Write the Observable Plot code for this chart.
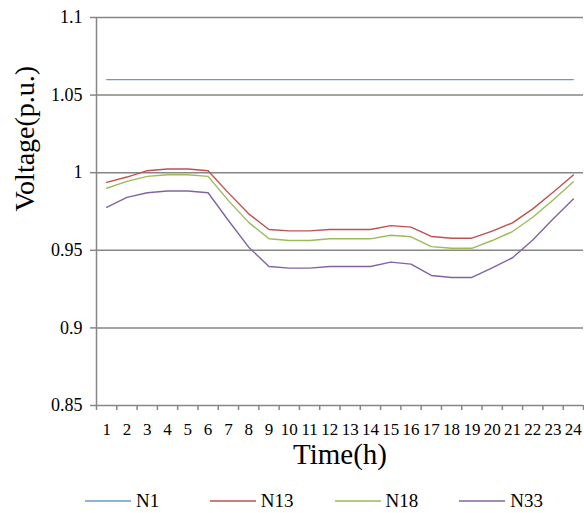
<!DOCTYPE html>
<html><head><meta charset="utf-8">
<script src="https://cdn.jsdelivr.net/npm/d3@7"></script>
<script src="https://cdn.jsdelivr.net/npm/@observablehq/plot@0.6"></script>
<style>
body{margin:0;background:#fff;font-family:"Liberation Serif","DejaVu Serif",Times,serif;}
#wrap{position:relative;width:584px;height:513px;overflow:hidden;}
#legend{position:absolute;left:0;top:489px;width:584px;height:24px;display:flex;padding-left:85px;box-sizing:border-box;}
.item{width:133px;display:flex;align-items:center;font-size:19px;color:#000;font-family:"Liberation Serif","DejaVu Serif",Times,serif;}
.item svg{margin-right:5px;}
svg text{font-family:"Liberation Serif","DejaVu Serif",Times,serif !important;}
</style></head><body><div id="wrap"></div>
<script>
const hours = [1,2,3,4,5,6,7,8,9,10,11,12,13,14,15,16,17,18,19,20,21,22,23,24];
const n1  = [1.06,1.06,1.06,1.06,1.06,1.06,1.06,1.06,1.06,1.06,1.06,1.06,1.06,1.06,1.06,1.06,1.06,1.06,1.06,1.06,1.06,1.06,1.06,1.06];
const n13 = [0.9938,0.9972,1.0013,1.0024,1.0024,1.0013,0.9870,0.9735,0.9634,0.9625,0.9625,0.9634,0.9634,0.9634,0.9659,0.9649,0.9589,0.9578,0.9578,0.9623,0.9677,0.9767,0.9874,0.9985];
const n18 = [0.9900,0.9944,0.9976,0.9987,0.9987,0.9976,0.9820,0.9680,0.9574,0.9563,0.9563,0.9574,0.9574,0.9574,0.9597,0.9587,0.9524,0.9513,0.9513,0.9563,0.9621,0.9713,0.9824,0.9942];
const n33 = [0.9777,0.9841,0.9871,0.9882,0.9882,0.9871,0.9692,0.9520,0.9396,0.9385,0.9385,0.9396,0.9396,0.9396,0.9424,0.9411,0.9338,0.9325,0.9325,0.9387,0.9452,0.9567,0.9702,0.9831];
const seriesNames = ["N1","N13","N18","N33"];
const seriesColors = ["#6A98D0","#C0504D","#9BBB59","#8064A2"];
const yTicks = [0.85,0.9,0.95,1,1.05,1.1];
const yTickLabels = ["0.85","0.9","0.95","1","1.05","1.1"];
const xTickLabels = ["1","2","3","4","5","6","7","8","9","10","11","12","13","14","15","16","17","18","19","20","21","22","23","24"];
const yTitle = "Voltage(p.u.)";
const xTitle = "Time(h)";

const seriesValues = [n1, n13, n18, n33];
const rows = [];
seriesNames.forEach((s, si) => hours.forEach((h, i) => rows.push({series: s, hour: h, v: seriesValues[si][i]})));
const xBounds = hours.map(h => h - 0.5).concat([hours[hours.length - 1] + 0.5]);
const gray = "#868686";
const serif = "Liberation Serif, DejaVu Serif, Times, serif";

const chart = Plot.plot({
  width: 584,
  height: 480,
  marginLeft: 96,
  marginRight: 1,
  marginTop: 17,
  marginBottom: 75,
  style: {fontFamily: serif, color: "#000", background: "#fff"},
  x: {domain: [0.5, 24.5], axis: null},
  y: {domain: [0.85, 1.1], axis: null},
  color: {domain: seriesNames, range: seriesColors},
  marks: [
    Plot.gridY(yTicks, {stroke: gray, strokeOpacity: 1, strokeWidth: 1.5}),
    Plot.ruleX([0.5], {stroke: gray, strokeWidth: 1.5}),
    Plot.axisY(yTicks, {tickSize: 6, tickPadding: 8, fontSize: 18, stroke: gray, strokeWidth: 1.5,
      tickFormat: d => yTickLabels[yTicks.indexOf(d)], label: null}),
    Plot.axisX(xBounds, {tickSize: 5, tickFormat: () => "", stroke: gray, strokeWidth: 1.5, label: null}),
    Plot.axisX(hours, {tickSize: 0, tickPadding: 17, fontSize: 17,
      tickFormat: d => xTickLabels[hours.indexOf(d)], label: null}),
    Plot.line(rows, {x: "hour", y: "v", z: "series", stroke: "series", strokeWidth: 1.4}),
    Plot.text([yTitle], {frameAnchor: "left", rotate: -90, dx: -71, fontSize: 28}),
    Plot.text([xTitle], {frameAnchor: "bottom", dy: 58, fontSize: 29})
  ]
});
const wrap = document.getElementById("wrap");
wrap.appendChild(chart);

const legend = document.createElement("div");
legend.id = "legend";
seriesNames.forEach((s, i) => {
  const item = document.createElement("div");
  item.className = "item";
  item.innerHTML = `<svg width="46" height="4"><line x1="0" x2="46" y1="2" y2="2" stroke="${seriesColors[i]}" stroke-width="1.5"/></svg><span>${s}</span>`;
  legend.appendChild(item);
});
wrap.appendChild(legend);
</script></body></html>
